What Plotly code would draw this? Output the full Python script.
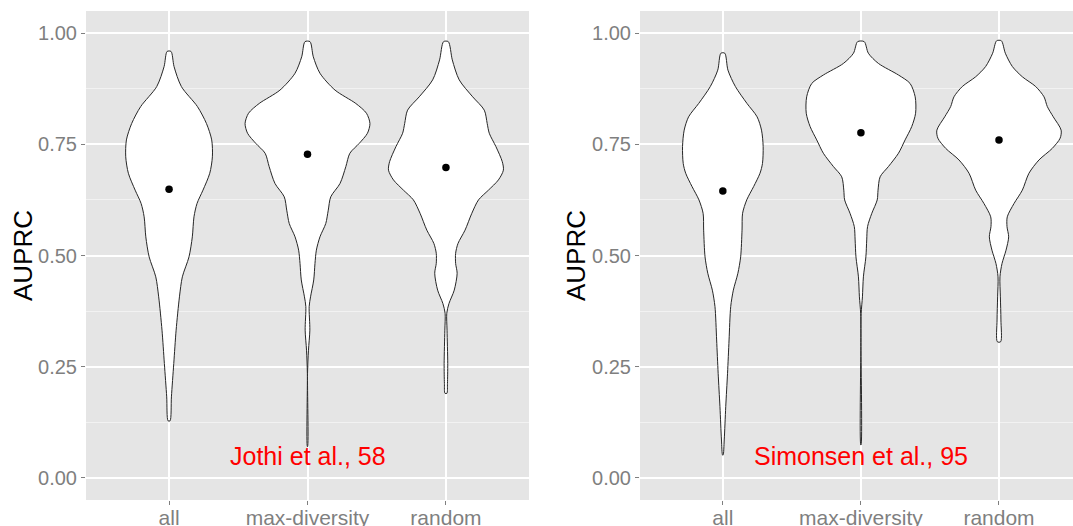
import plotly.graph_objects as go

categories = ["all", "max-diversity", "random"]
y_ticks = [0.0, 0.25, 0.5, 0.75, 1.0]
y_ticklabels = ["0.00", "0.25", "0.50", "0.75", "1.00"]

# Violin outlines: AUPRC levels (top -> bottom) and half-widths (in category units)
jothi_all_y = [0.959, 0.925, 0.880, 0.835, 0.797, 0.760, 0.722, 0.685, 0.647, 0.617, 0.587, 0.542, 0.497, 0.452, 0.407, 0.332, 0.257, 0.182, 0.128]
jothi_all_w = [0.014, 0.036, 0.089, 0.205, 0.270, 0.308, 0.313, 0.294, 0.245, 0.202, 0.180, 0.168, 0.144, 0.096, 0.075, 0.051, 0.034, 0.017, 0.007]

jothi_maxdiv_y = [0.981, 0.947, 0.910, 0.872, 0.842, 0.820, 0.797, 0.775, 0.752, 0.730, 0.700, 0.662, 0.632, 0.602, 0.572, 0.542, 0.512, 0.482, 0.445, 0.407, 0.385, 0.332, 0.287, 0.235, 0.070]
jothi_maxdiv_w = [0.018, 0.042, 0.090, 0.199, 0.349, 0.426, 0.451, 0.433, 0.373, 0.306, 0.277, 0.235, 0.168, 0.150, 0.132, 0.090, 0.064, 0.054, 0.045, 0.022, 0.012, 0.017, 0.007, 0.001, 0.001]

jothi_random_y = [0.981, 0.940, 0.895, 0.857, 0.827, 0.797, 0.775, 0.745, 0.711, 0.692, 0.670, 0.647, 0.625, 0.595, 0.557, 0.527, 0.505, 0.482, 0.460, 0.422, 0.392, 0.370, 0.332, 0.257, 0.212, 0.190]
jothi_random_w = [0.017, 0.046, 0.096, 0.193, 0.277, 0.298, 0.313, 0.361, 0.407, 0.415, 0.379, 0.307, 0.235, 0.187, 0.138, 0.087, 0.070, 0.070, 0.081, 0.060, 0.022, 0.006, 0.008, 0.013, 0.011, 0.007]

sim_all_y = [0.955, 0.917, 0.880, 0.842, 0.812, 0.782, 0.745, 0.707, 0.685, 0.655, 0.625, 0.595, 0.557, 0.497, 0.460, 0.422, 0.385, 0.310, 0.235, 0.160, 0.085, 0.051]
sim_all_w = [0.014, 0.037, 0.091, 0.175, 0.248, 0.280, 0.292, 0.287, 0.269, 0.223, 0.173, 0.143, 0.139, 0.129, 0.109, 0.076, 0.057, 0.045, 0.034, 0.021, 0.010, 0.002]

sim_maxdiv_y = [0.981, 0.955, 0.932, 0.906, 0.887, 0.857, 0.820, 0.790, 0.760, 0.730, 0.700, 0.677, 0.647, 0.625, 0.595, 0.565, 0.535, 0.497, 0.452, 0.407, 0.370, 0.295, 0.074]
sim_maxdiv_w = [0.024, 0.054, 0.127, 0.272, 0.356, 0.393, 0.396, 0.368, 0.320, 0.272, 0.199, 0.139, 0.124, 0.118, 0.079, 0.048, 0.042, 0.036, 0.018, 0.011, 0.002, 0.001, 0.001]

sim_random_y = [0.983, 0.955, 0.925, 0.902, 0.880, 0.857, 0.835, 0.812, 0.782, 0.764, 0.741, 0.715, 0.685, 0.647, 0.617, 0.587, 0.565, 0.542, 0.512, 0.482, 0.452, 0.407, 0.355, 0.306]
sim_random_w = [0.017, 0.046, 0.097, 0.169, 0.266, 0.326, 0.350, 0.393, 0.450, 0.443, 0.386, 0.290, 0.217, 0.169, 0.109, 0.060, 0.058, 0.070, 0.051, 0.022, 0.007, 0.010, 0.014, 0.012]

jothi_means = [0.649, 0.728, 0.698]
sim_means = [0.645, 0.776, 0.760]

panel_labels = ["Jothi et al., 58", "Simonsen et al., 95"]

panels = [
    dict(xa="x", ya="y", violins=[(jothi_all_y, jothi_all_w), (jothi_maxdiv_y, jothi_maxdiv_w), (jothi_random_y, jothi_random_w)], means=jothi_means, label=panel_labels[0]),
    dict(xa="x2", ya="y2", violins=[(sim_all_y, sim_all_w), (sim_maxdiv_y, sim_maxdiv_w), (sim_random_y, sim_random_w)], means=sim_means, label=panel_labels[1]),
]

FONT = "Liberation Sans, Arial, Helvetica, sans-serif"
fig = go.Figure()

for p in panels:
    for i, (ys, ws) in enumerate(p["violins"]):
        pos = i + 1
        right_x = [pos + w for w in ws[::-1]]
        right_y = ys[::-1]
        left_x = [pos - w for w in ws]
        left_y = ys
        xs = right_x + left_x + [right_x[0]]
        yy = right_y + left_y + [right_y[0]]
        fig.add_trace(go.Scatter(
            x=xs, y=yy, xaxis=p["xa"], yaxis=p["ya"], mode="lines",
            fill="toself", fillcolor="white",
            line=dict(color="#262626", width=1, shape="spline", smoothing=0.8),
            showlegend=False, hoverinfo="skip"))
    fig.add_trace(go.Scatter(
        x=[1, 2, 3], y=p["means"], xaxis=p["xa"], yaxis=p["ya"], mode="markers",
        marker=dict(color="black", size=7.5), showlegend=False))
    fig.add_annotation(x=2, y=0.05, xref=p["xa"], yref=p["ya"], text=p["label"],
                       showarrow=False, xanchor="center", yanchor="middle",
                       font=dict(family=FONT, size=25, color="red"))

W, H = 1073, 526
def xaxis_style(domain, rng, anchor):
    return dict(domain=domain, range=rng, anchor=anchor, automargin=False,
                tickvals=[1, 2, 3], ticktext=categories, ticklabelstandoff=-5,
                showgrid=True, gridcolor="white", gridwidth=1.5, zeroline=False,
                ticks="outside", ticklen=4, tickcolor="#7F7F7F", tickwidth=1,
                tickfont=dict(family=FONT, size=21, color="#7F7F7F"), showline=False)

def yaxis_style(anchor):
    return dict(domain=[1 - 500 / H, 1 - 11 / H], range=[-0.05, 1.05], anchor=anchor,
                automargin=False, tickvals=y_ticks, ticktext=y_ticklabels,
                showgrid=True, gridcolor="white", gridwidth=1.5, zeroline=False,
                ticks="outside", ticklen=4, tickcolor="#7F7F7F", tickwidth=1,
                tickfont=dict(family=FONT, size=20, color="#7F7F7F"), showline=False,
                minor=dict(tickvals=[0.125, 0.375, 0.625, 0.875], showgrid=True,
                           gridcolor="#F2F2F2", gridwidth=0.7, ticks=""))

fig.update_layout(
    width=W, height=H, autosize=False, margin=dict(l=0, r=0, t=0, b=0),
    paper_bgcolor="white", plot_bgcolor="#E5E5E5",
    xaxis=xaxis_style([86 / W, 529 / W], [0.4, 3.6], "y"),
    yaxis=yaxis_style("x"),
    xaxis2=xaxis_style([640 / W, 1.0], [0.4, 3.536], "y2"),
    yaxis2=yaxis_style("x2"),
)

for xpix in [23, 576]:
    fig.add_annotation(x=xpix / W, y=1 - 256 / H, xref="paper", yref="paper", text="AUPRC",
                       showarrow=False, textangle=-90, xanchor="center", yanchor="middle",
                       font=dict(family=FONT, size=26, color="black"))

fig.write_html("out.html",
               config={"displayModeBar": False, "responsive": False},
               post_script="document.body.style.margin='0';document.body.style.overflow='hidden';")
